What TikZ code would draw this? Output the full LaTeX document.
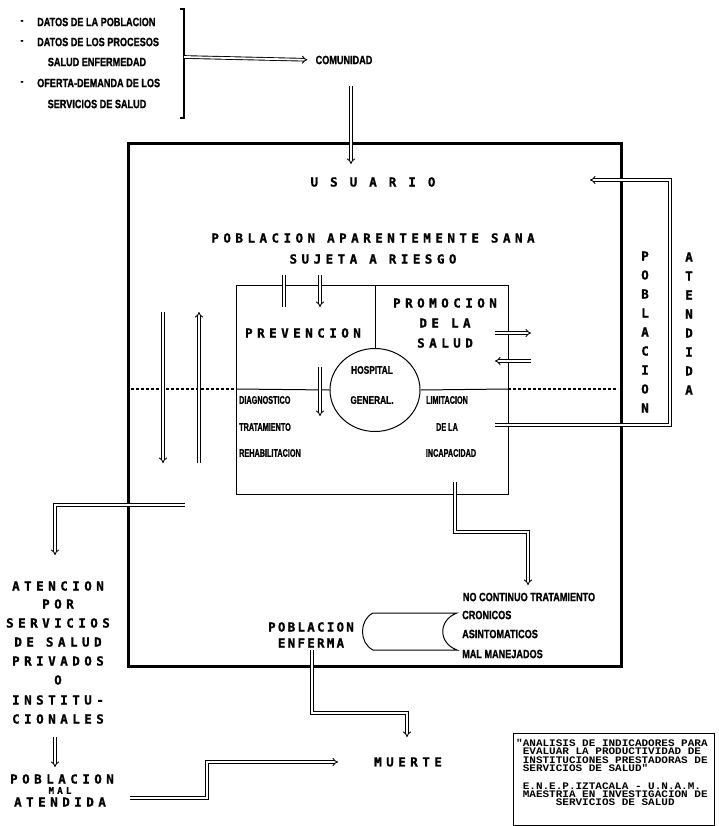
\documentclass[tikz,border=0pt]{standalone}
\usepackage{fontspec}
\usetikzlibrary{arrows.meta,shapes.geometric}
\newfontfamily\dotf[UprightFont=* Bold, LetterSpace=36, FakeBold=1.2]{DejaVu Sans Mono}
\newfontfamily\dotg[UprightFont=* Bold, LetterSpace=18, FakeBold=1.2]{DejaVu Sans Mono}
\newfontfamily\condA[UprightFont=* Bold, FakeStretch=0.76, FakeBold=1]{Liberation Sans}
\newfontfamily\condC[UprightFont=* Bold, FakeStretch=0.66, FakeBold=1]{Liberation Sans}
\newfontfamily\monof[UprightFont=* Bold, FakeStretch=1.1]{Liberation Mono}
\tikzset{
 bigt/.style={font=\dotf\fontsize{12.5}{14}\selectfont, inner sep=0pt},
 smallt/.style={font=\dotf\fontsize{9}{10}\selectfont, inner sep=0pt},
 midt/.style={font=\dotg\fontsize{12.5}{14}\selectfont, inner sep=0pt},
 cndt/.style={font=\condA\fontsize{12}{14}\selectfont, inner sep=0pt},
 cnds/.style={font=\condC\fontsize{11}{13}\selectfont, inner sep=0pt},
 hosf/.style={font=\condA\fontsize{11}{13}\selectfont, inner sep=0pt},
 dbl/.style={double=white, double distance=1.8pt, line width=0.9pt},
 dblarr/.style={dbl, -{Implies}},
 boxline/.style={draw, line width=1pt},
 heavy/.style={draw, line width=2.8pt},
 dots/.style={line width=1.1pt, dash pattern=on 2.5pt off 2.5pt},
}
\begin{document}
\begin{tikzpicture}[x=1pt,y=-1pt]
\useasboundingbox (0,0) rectangle (718,826);

% ---------- top left list ----------
\node[cndt] (d1) at (22,22) {-};
\node[cndt, anchor=west] (t1) at (37,22) {DATOS DE LA POBLACION};
\node[cndt] (d2) at (22,42) {-};
\node[cndt, anchor=west] (t2) at (37,42) {DATOS DE LOS PROCESOS};
\node[cndt] (t3) at (97,62) {SALUD ENFERMEDAD};
\node[cndt] (d4) at (22,83) {-};
\node[cndt, anchor=west] (t4) at (37,83) {OFERTA-DEMANDA DE LOS};
\node[cndt] (t5) at (97,104) {SERVICIOS DE SALUD};
\coordinate (brT) at (184,9);
\coordinate (brB) at (184,118);
\draw[line width=1.8pt] (180,9) -- (brT) -- (brB) -- (180,118);
\node[cndt] (comu) at (344,60) {COMUNIDAD};
\draw[dblarr, shorten >=8pt] (184,57) -- (comu.west);

% ---------- outer box ----------
\node[heavy, anchor=north west, minimum width=493pt, minimum height=523pt, inner sep=0pt] (outer) at (127,142) {};

% ---------- inner box ----------
\node[boxline, anchor=north west, minimum width=272pt, minimum height=209pt, inner sep=0pt] (inner) at (236,285) {};
\node[boxline, ellipse, minimum width=90pt, minimum height=83pt, inner sep=0pt] (hosp) at (375,390) {};
\coordinate (divT) at (375,285);
\draw[line width=1pt] (divT) -- (hosp.north);
\coordinate (hl) at (236,389);
\coordinate (hr) at (508,389);
\draw[line width=1pt] (hl) -- (hosp.west);
\draw[line width=1pt] (hosp.east) -- (hr);
\coordinate (dotL) at (131,389);
\coordinate (dotR) at (618,389);
\draw[dots] (dotL) -- (hl);
\draw[dots] (hr) -- (dotR);

% ---------- texts ----------
\node[bigt] (usu) at (373,182) {U S U A R I O};
\node[bigt] (pob1) at (373,238) {POBLACION APARENTEMENTE SANA};
\node[bigt] (pob2) at (373,259) {SUJETA A RIESGO};
\node[bigt] (prev) at (303,333) {PREVENCION};
\node[bigt] (prom1) at (445,303) {PROMOCION};
\node[bigt] (prom2) at (445,323) {DE LA};
\node[bigt] (prom3) at (445,343) {SALUD};
\node[hosf] (hos1) at (372,370) {HOSPITAL};
\node[hosf] (hos2) at (372,400) {GENERAL.};
\node[cnds, anchor=west] (dg1) at (239,400) {DIAGNOSTICO};
\node[cnds, anchor=west] (dg2) at (239,427) {TRATAMIENTO};
\node[cnds, anchor=west] (dg3) at (239,453) {REHABILITACION};
\node[cnds] (li1) at (447,400) {LIMITACION};
\node[cnds] (li2) at (447,427) {DE LA};
\node[cnds] (li3) at (451,453) {INCAPACIDAD};

\foreach \c [count=\i from 0] in {P,O,B,L,A,C,I,O,N}
  \node[bigt] (pc\i) at (645,{256+19*\i}) {\c};
\foreach \c [count=\i from 0] in {A,T,E,N,D,I,D,A}
  \node[bigt] (ac\i) at (689,{257+19*\i}) {\c};

% ---------- arrows inside ----------
\coordinate (comuS) at (351,86);
\coordinate (usuN) at (351,164);
\draw[dblarr] (comuS) -- (usuN);

\draw[dbl] (284,275) -- (284,307);
\draw[dblarr] (320,275) -- (320,307);
\draw[dblarr] (320,367) -- (320,416);

\draw[dblarr] (163,312) -- (163,463);
\draw[dblarr] (199,463) -- (199,312);

\draw[dblarr] (495,333) -- (531,333);
\draw[dblarr] (531,361) -- (495,361);

\coordinate (atS) at (495,425);
\coordinate (atC1) at (670,425);
\coordinate (atC2) at (670,180);
\coordinate (atE) at (590,180);
\draw[dblarr] (atS) -- (atC1) -- (atC2) -- (atE);

% ---------- left branch ----------
\coordinate (lfS) at (185,505);
\coordinate (lfC) at (55,505);
\node[bigt] (at1) at (58,586) {ATENCION};
\node[bigt] (at2) at (58,604) {POR};
\node[bigt] (at3) at (58,623) {SERVICIOS};
\node[bigt] (at4) at (58,642) {DE SALUD};
\node[bigt] (at5) at (58,661) {PRIVADOS};
\node[bigt] (at6) at (58,680) {O};
\node[bigt] (at7) at (58,700) {INSTITU-};
\node[bigt] (at8) at (58,719) {CIONALES};
\draw[dblarr] (lfS) -- (lfC) -- (55,555);
\coordinate (at8S) at (55,737);
\coordinate (pmN) at (55,767);
\draw[dblarr] (at8S) -- (pmN);
\node[bigt] (pm1) at (62,779) {POBLACION};
\node[smallt] (pm2) at (60,790.5) {MAL};
\node[bigt] (pm3) at (60,802) {ATENDIDA};

% ---------- bottom center ----------
\coordinate (ibS) at (455,482);
\coordinate (ibC1) at (455,532);
\coordinate (ibC2) at (528,532);
\node[cndt] (nct) at (529,597) {NO CONTINUO TRATAMIENTO};
\draw[dblarr] (ibS) -- (ibC1) -- (ibC2) -- (528,585);

\draw[line width=1pt] (373,613) -- (457,613) .. controls (438,620) and (438,643) .. (457,650) -- (373,650) .. controls (359,643) and (359,620) .. (373,613);
\node[cndt, anchor=west] (cr1) at (462,615) {CRONICOS};
\node[cndt, anchor=west] (cr2) at (462,634) {ASINTOMATICOS};
\node[cndt, anchor=west] (cr3) at (462,654) {MAL MANEJADOS};

\node[midt] (enf1) at (311,627) {POBLACION};
\node[midt] (enf2) at (311,643) {ENFERMA};

\node[bigt] (muerte) at (408,762) {MUERTE};
\coordinate (enS) at (312,650);
\coordinate (enC1) at (312,713);
\coordinate (enC2) at (407,713);
\draw[dblarr] (enS) -- (enC1) -- (enC2) -- (407,737);

\coordinate (maS) at (130,798);
\coordinate (maC1) at (207,798);
\coordinate (maC2) at (207,762);
\draw[dblarr] (maS) -- (maC1) -- (maC2) -- (338,762);

% ---------- title box ----------
\node[draw, line width=1pt, anchor=north west, minimum width=201pt, minimum height=92pt, inner sep=0pt] (tbox) at (513,733) {};
\node[anchor=north west, align=left, inner sep=0pt, font=\monof\fontsize{10}{8.4}\selectfont] (ttext) at (516,739)
 {"ANALISIS DE INDICADORES PARA\\
  \hphantom{"}EVALUAR LA PRODUCTIVIDAD DE\\
  \hphantom{"}INSTITUCIONES PRESTADORAS DE\\
  \hphantom{"}SERVICIOS DE SALUD"\\[9pt]
  \hphantom{"}E.N.E.P.IZTACALA - U.N.A.M.\\
  \hphantom{"}MAESTRIA EN INVESTIGACION DE\\
  \hphantom{"MAEST}SERVICIOS DE SALUD};
\end{tikzpicture}
\end{document}
